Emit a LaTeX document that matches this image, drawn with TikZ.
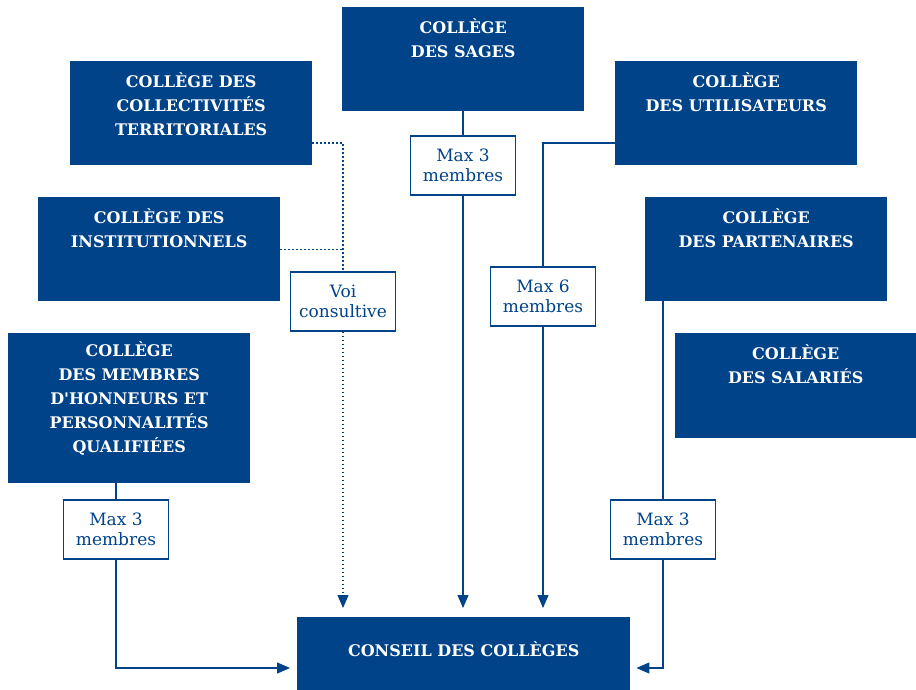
\documentclass[tikz,border=0pt]{standalone}
\usepackage{fontspec}
\setmainfont{DejaVu Serif}
\usetikzlibrary{arrows.meta}
\definecolor{cblue}{RGB}{0,67,137}
\begin{document}
\begin{tikzpicture}[x=1pt,y=-1pt,
  college/.style={fill=cblue, draw=none, inner sep=0pt, anchor=north west},
  coltext/.style={text=white, font=\fontsize{16}{24}\selectfont\bfseries, align=center, inner sep=0pt, anchor=north},
  labelbox/.style={draw=cblue, line width=1.3pt, fill=white, text=cblue, minimum width=105pt, minimum height=59pt, inner sep=0pt, align=center, font=\fontsize{17}{20}\selectfont},
  conn/.style={draw=cblue, line width=1.3pt},
  arr/.style={conn, -{Triangle[length=13pt,width=11pt]}},
  dotline/.style={conn, dash pattern=on 1.3pt off 2.7pt}
]
\path[use as bounding box] (0,0) rectangle (916,690);

% college boxes
\node[college, minimum width=242pt, minimum height=104pt] (sages) at (342,7) {};
\node[college, minimum width=242pt, minimum height=104pt] (collect) at (70,61) {};
\node[college, minimum width=242pt, minimum height=104pt] (util) at (615,61) {};
\node[college, minimum width=242pt, minimum height=104pt] (inst) at (38,197) {};
\node[college, minimum width=242pt, minimum height=104pt] (part) at (645,197) {};
\node[college, minimum width=242pt, minimum height=150pt] (honn) at (8,333) {};
\node[college, minimum width=241pt, minimum height=105pt] (sal) at (675,333) {};
\node[college, minimum width=333pt, minimum height=73pt] (conseil) at (297,617) {};

% texts
\node[coltext] (sagesT) at ([yshift=-11.5pt]sages.north) {COLLÈGE\\DES SAGES};
\node[coltext] (collectT) at ([yshift=-11.5pt]collect.north) {COLLÈGE DES\\COLLECTIVITÉS\\TERRITORIALES};
\node[coltext] (utilT) at ([yshift=-11.5pt]util.north) {COLLÈGE\\DES UTILISATEURS};
\node[coltext] (instT) at ([yshift=-11.5pt]inst.north) {COLLÈGE DES\\INSTITUTIONNELS};
\node[coltext] (partT) at ([yshift=-11.5pt]part.north) {COLLÈGE\\DES PARTENAIRES};
\node[coltext] (honnT) at ([yshift=-8.5pt]honn.north) {COLLÈGE\\DES MEMBRES\\D\textquotesingle HONNEURS ET\\PERSONNALITÉS\\QUALIFIÉES};
\node[coltext] (salT) at ([yshift=-11.5pt]sal.north) {COLLÈGE\\DES SALARIÉS};
\node[coltext, anchor=center] (conseilT) at ([yshift=4.5pt]conseil.center) {CONSEIL DES COLLÈGES};

% label boxes
\node[labelbox] (l1) at (463,165.5) {Max 3\\membres};
\node[labelbox] (voi) at (343,301.5) {Voi\\consultive};
\node[labelbox] (l6) at (543,296.5) {Max 6\\membres};
\node[labelbox] (l3a) at (116,529.5) {Max 3\\membres};
\node[labelbox] (l3b) at (663,529.5) {Max 3\\membres};

% helper coordinates
\coordinate (u1) at (543,143);
\coordinate (d1) at (343,143);
\coordinate (h) at (0,668);

% connectors
\draw[conn] (l1.north |- sages.south) -- (l1.north);
\draw[arr, shorten >=9pt] (l1.south) -- (l1.south |- conseil.north);

\draw[conn] (util.west |- u1) -- (u1) -- (l6.north);
\draw[arr, shorten >=9pt] (l6.south) -- (l6.south |- conseil.north);

\draw[dotline] (collect.east |- d1) -- (d1) -- (voi.north);
\draw[dotline] (inst.east) -- (inst.east -| d1);
\draw[dotline, -{Triangle[length=13pt,width=11pt]}, shorten >=9pt] (voi.south) -- (voi.south |- conseil.north);

\draw[conn] (l3a.north |- honn.south) -- (l3a.north);
\draw[arr, shorten >=7pt] (l3a.south) -- (l3a.south |- h) -- (conseil.west |- h);

\draw[conn] (l3b.north |- part.south) -- (l3b.north);
\draw[arr, shorten >=6pt] (l3b.south) -- (l3b.south |- h) -- (conseil.east |- h);
\end{tikzpicture}
\end{document}
